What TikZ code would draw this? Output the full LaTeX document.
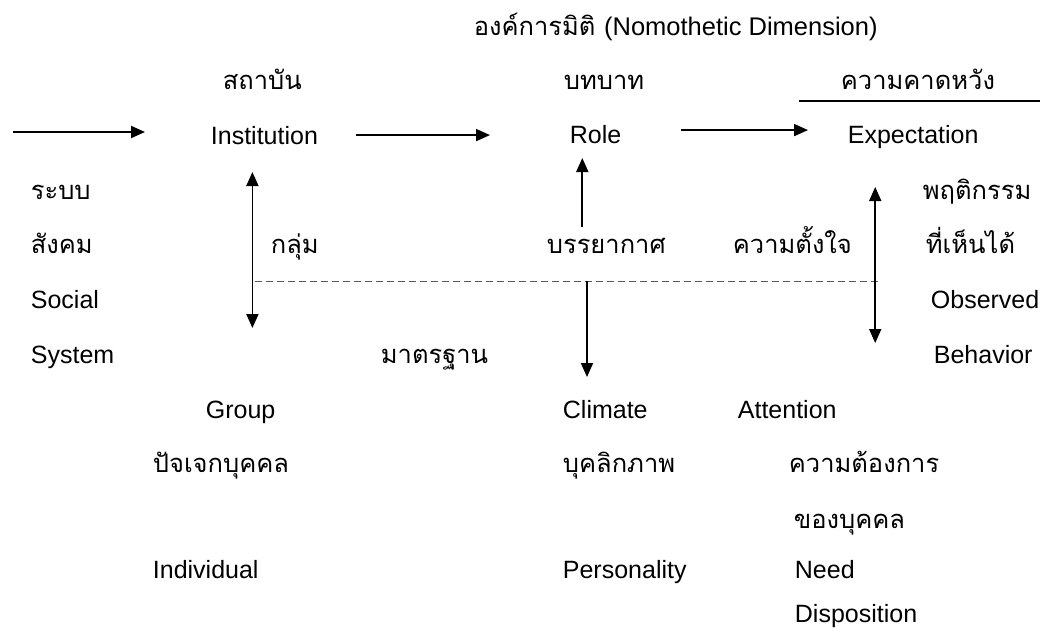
\documentclass[tikz,border=0pt]{standalone}
\usepackage{fontspec}
\setmainfont{Liberation Sans}
\newfontfamily\thaifont[Script=Thai]{Loma}
\usetikzlibrary{arrows.meta}
\begin{document}
\begin{tikzpicture}[x=1pt,y=-1pt,line join=round,line width=1.8pt,>={Triangle[length=14pt,width=12pt]}]
	\tikzset{
		en/.style={anchor=base west,inner sep=0pt,font=\fontsize{25}{30}\selectfont},
		th/.style={anchor=base west,inner sep=0pt,font=\thaifont\fontsize{25.5}{30}\selectfont},
		dash line/.style={gray!70!black,line width=1pt,dash pattern=on 7pt off 4pt}
	}
	\useasboundingbox[fill=white](0,0)rectangle(1055,627);
	%%%%%%%%% title
	\node[th] (dim) at (473,35) {องค์การมิติ {\rmfamily(Nomothetic Dimension)}};
	%%%%%%%%% upper row
	\node[th] (inst-th) at (222,89) {สถาบัน};
	\node[th] (role-th) at (563,89) {บทบาท};
	\node[th] (hope) at (840,89) {ความคาดหวัง};
	\draw[line width=1.2pt](799,101)--(1040,101);
	\node[en] (inst) at (210,144) {Institution};
	\node[en] (role) at (569,143) {Role};
	\node[en] (expect) at (847,143) {Expectation};
	%%%%%%%%% left column
	\node[th] (sys1) at (30,199) {ระบบ};
	\node[th] (sys2) at (30,253) {สังคม};
	\node[en] (sys3) at (30,308) {Social};
	\node[en] (sys4) at (30,363) {System};
	%%%%%%%%% middle
	\node[th] (group-th) at (270,253) {กลุ่ม};
	\node[th] (atmos) at (546,253) {บรรยากาศ};
	\node[th] (intent) at (732,253) {ความตั้งใจ};
	\node[th] (std) at (380,363) {มาตรฐาน};
	%%%%%%%%% right column
	\node[th] (obs1) at (922,199) {พฤติกรรม};
	\node[th] (obs2) at (925,253) {ที่เห็นได้};
	\node[en] (obs3) at (930,308) {Observed};
	\node[en] (obs4) at (933,363) {Behavior};
	%%%%%%%%% lower rows
	\node[en] (group) at (205,418) {Group};
	\node[th] (indiv-th) at (152,472) {ปัจเจกบุคคล};
	\node[en] (indiv) at (152,578) {Individual};
	\node[en] (clim) at (562,418) {Climate};
	\node[th] (pers-th) at (562,472) {บุคลิกภาพ};
	\node[en] (pers) at (562,578) {Personality};
	\node[en] (attn) at (737,418) {Attention};
	\node[th] (need1) at (788,472) {ความต้องการ};
	\node[th] (need2) at (793,528) {ของบุคคล};
	\node[en] (need3) at (794,578) {Need};
	\node[en] (need4) at (794,622) {Disposition};
	%%%%%%%%% arrows
	\coordinate (in0) at (13,132);
	\coordinate (in1) at (145,132);
	\coordinate (dl) at (255,281);
	\coordinate (dr) at (880,281);
	\coordinate (mid) at (587,281);
	\coordinate (a3) at ([shift={(59,-4)}]role.east);
	\coordinate (lt0) at ([shift={(-12,28)}]inst.base);
	\coordinate (lt1) at ([shift={(0,-90)}]group.base);
	\coordinate (up0) at ([shift={(-24,-26)}]atmos.base);
	\coordinate (up1) at ([shift={(0,15)}]role.base);
	\coordinate (cl1) at ([shift={(0,-41)}]clim.base);
	\coordinate (rd0) at ([shift={(-38,44)}]expect.base);
	\coordinate (rd1) at ([shift={(0,-20)}]obs4.base);
	\draw[dash line](dl)--(dr);
	\draw[->](in0)--(in1);
	\draw[->]([xshift=37pt]inst.east)--([xshift=-79pt]role.west |- inst.east);
	\draw[->](a3)--([xshift=-39pt]expect.west |- a3);
	\draw[<->](lt0)--(lt0 |- lt1);
	\draw[->](up0)--(up0 |- up1);
	\draw[->](mid)--(mid |- cl1);
	\draw[<->](rd0)--(rd0 |- rd1);
\end{tikzpicture}
\end{document}
